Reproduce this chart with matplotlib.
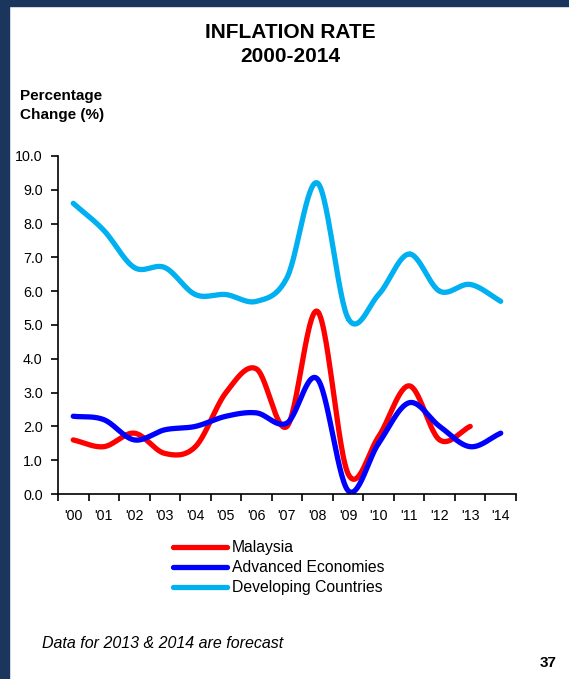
import matplotlib.pyplot as plt
import numpy as np

plt.rcParams['font.family'] = ['Liberation Sans', 'DejaVu Sans']

years = ["'00", "'01", "'02", "'03", "'04", "'05", "'06", "'07",
         "'08", "'09", "'10", "'11", "'12", "'13", "'14"]

malaysia = [1.6, 1.4, 1.8, 1.2, 1.4, 3.0, 3.7, 2.0, 5.4, 0.6, 1.7, 3.2, 1.6, 2.0]
advanced = [2.3, 2.2, 1.6, 1.9, 2.0, 2.3, 2.4, 2.1, 3.4, 0.1, 1.5, 2.7, 2.0, 1.4, 1.8]
developing = [8.6, 7.8, 6.7, 6.7, 5.9, 5.9, 5.7, 6.4, 9.2, 5.2, 5.9, 7.1, 6.0, 6.2, 5.7]


def smooth(y, n=30):
    # excel-style smoothed line (catmull-rom through the points)
    x = np.arange(len(y)) + 0.5
    y = np.asarray(y, dtype=float)
    px = np.concatenate([[2 * x[0] - x[1]], x, [2 * x[-1] - x[-2]]])
    py = np.concatenate([[2 * y[0] - y[1]], y, [2 * y[-1] - y[-2]]])
    xs, ys = [], []
    t = np.linspace(0, 1, n)
    for i in range(1, len(px) - 2):
        p0, p1, p2, p3 = py[i - 1], py[i], py[i + 1], py[i + 2]
        q0, q1, q2, q3 = px[i - 1], px[i], px[i + 1], px[i + 2]
        cy = 0.5 * (2 * p1 + (-p0 + p2) * t + (2 * p0 - 5 * p1 + 4 * p2 - p3) * t**2
                    + (-p0 + 3 * p1 - 3 * p2 + p3) * t**3)
        cx = 0.5 * (2 * q1 + (-q0 + q2) * t + (2 * q0 - 5 * q1 + 4 * q2 - q3) * t**2
                    + (-q0 + 3 * q1 - 3 * q2 + q3) * t**3)
        xs.extend(cx)
        ys.extend(cy)
    return xs, ys


fig = plt.figure(figsize=(5.69, 6.79), dpi=100)
# navy slide border
fig.patches.append(plt.Rectangle((0, 0), 8.5 / 569, 1, transform=fig.transFigure,
                                 color='#1b365d', zorder=0))
fig.patches.append(plt.Rectangle((0, 1 - 5.5 / 679), 1, 5.5 / 679, transform=fig.transFigure,
                                 color='#1b365d', zorder=0))

ax = fig.add_axes([58 / 569, 1 - 494 / 679, (516 - 58) / 569, (494 - 156) / 679])

lw = 3.8
for data, color, name in [(malaysia, '#ff0000', 'Malaysia'),
                          (advanced, '#0000ff', 'Advanced Economies'),
                          (developing, '#00b0f0', 'Developing Countries')]:
    sx, sy = smooth(data)
    ax.plot(sx, sy, color=color, lw=lw, label=name, solid_capstyle='round')

ax.set_xlim(0, len(years))
ax.set_ylim(0, 10)
ax.set_yticks(np.arange(0, 11, 1))
ax.set_yticklabels(['%.1f' % v for v in range(11)], fontsize=10.3)
ax.set_xticks(np.arange(0, len(years) + 1))
ax.set_xticklabels([])
ax.set_xticks(np.arange(len(years)) + 0.5, minor=True)
ax.set_xticklabels(years, minor=True, fontsize=10.3)
ax.tick_params(axis='x', which='minor', length=0, pad=11)
ax.tick_params(axis='both', which='major', length=5, width=1.2, direction='out')
ax.tick_params(axis='y', pad=6)
for s in ['top', 'right']:
    ax.spines[s].set_visible(False)
for s in ['left', 'bottom']:
    ax.spines[s].set_linewidth(1.2)

fig.legend(*ax.get_legend_handles_labels(), loc='upper left',
           bbox_to_anchor=(173 / 569, 1 - 540 / 679), frameon=False,
           fontsize=11.3, handlelength=3.45, handletextpad=0.3, labelspacing=0.32,
           borderpad=0, borderaxespad=0)

fig.text(290 / 569, 1 - 32 / 679, 'INFLATION RATE', ha='center', va='center',
         fontsize=15, fontweight='bold')
fig.text(290 / 569, 1 - 57 / 679, '2000-2014', ha='center', va='center',
         fontsize=15, fontweight='bold')
fig.text(20 / 569, 1 - 96 / 679, 'Percentage', ha='left', va='center',
         fontsize=11, fontweight='bold')
fig.text(20 / 569, 1 - 115 / 679, 'Change (%)', ha='left', va='center',
         fontsize=11, fontweight='bold')
fig.text(42 / 569, 1 - 643 / 679, 'Data for 2013 & 2014 are forecast', ha='left',
         va='center', fontsize=11.5, style='italic')
fig.text(557 / 569, 1 - 663 / 679, '37', ha='right', va='center', fontsize=11,
         fontweight='bold')

plt.savefig('out.png')
